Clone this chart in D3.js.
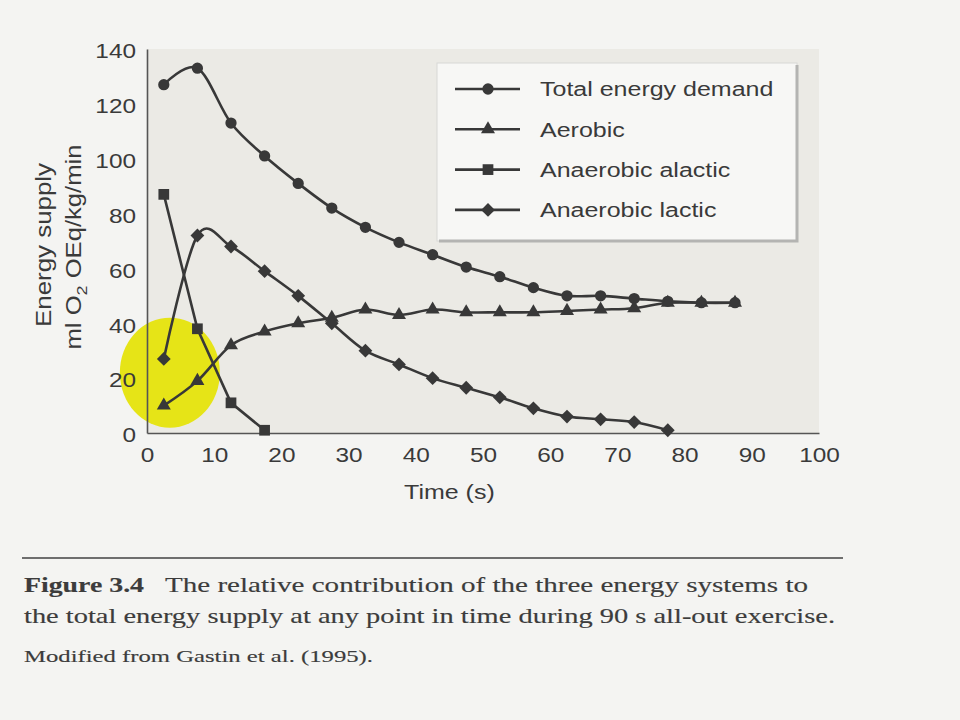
<!DOCTYPE html>
<html>
<head>
<meta charset="utf-8">
<script src="https://cdn.jsdelivr.net/npm/d3@7/dist/d3.min.js"></script>
<style>
    body { margin: 0; background: #f4f4f2; }
    svg { display: block; }
    .axis text { font-family: "Liberation Sans", Arial, sans-serif; font-size: 19.5px; fill: #3a3a3a; }
    .axis path { stroke: #555; stroke-width: 1.6; }
    .label { font-family: "Liberation Sans", Arial, sans-serif; font-size: 20px; fill: #3a3a3a; }
    .caption { font-family: "Liberation Serif", "DejaVu Serif", serif; fill: #3c3c3c; stroke: #3c3c3c; stroke-width: 0.15; }
</style>
</head>
<body>
<div id="chart"></div>
<script>
// time points (s)
const times = [2.5, 7.5, 12.5, 17.5, 22.5, 27.5, 32.5, 37.5, 42.5, 47.5, 52.5, 57.5, 62.5, 67.5, 72.5, 77.5, 82.5, 87.5];

// ml O2 OEq/kg/min
const totalDemand = [127, 133, 113, 101, 91, 82, 75, 69.5, 65, 60.5, 57, 53, 50, 50, 49, 48, 47.5, 47.5];
const aerobic     = [10, 19, 32, 37, 40, 42, 45, 43, 45, 44, 44, 44, 44.5, 45, 45.5, 47.5, 47.5, 47.5];
const alactic     = [87, 38, 11, 1];
const lactic      = [27, 72, 68, 59, 50, 40, 30, 25, 20, 16.5, 13, 9, 6, 5, 4, 1];

const seriesNames = ["Total energy demand", "Aerobic", "Anaerobic alactic", "Anaerobic lactic"];

const xTicks = [0, 10, 20, 30, 40, 50, 60, 70, 80, 90, 100];
const yTicks = [0, 20, 40, 60, 80, 100, 120, 140];

const width = 960, height = 720;
const margin = { top: 49, right: 141, bottom: 287, left: 147 };
const innerW = width - margin.left - margin.right;
const innerH = height - margin.top - margin.bottom;

// the scanned page is stretched sideways, so the text is too
const SX = 1.25;

const svg = d3.select("#chart").append("svg")
    .attr("width", width)
    .attr("height", height);

const g = svg.append("g")
    .attr("transform", `translate(${margin.left}, ${margin.top})`);

const x = d3.scaleLinear().domain([0, 100]).range([0, innerW]);
const y = d3.scaleLinear().domain([0, 140]).range([innerH, 0]);

// slightly tinted plot paper
g.append("rect")
    .attr("x", 0).attr("y", 0)
    .attr("width", innerW).attr("height", innerH)
    .attr("fill", "#ebeae5");

// yellow highlighter blob
g.append("ellipse")
    .attr("cx", x(3.4))
    .attr("cy", y(22))
    .attr("rx", 50)
    .attr("ry", 55)
    .attr("fill", "#e6e417");

// axes
g.append("g")
    .attr("class", "axis x-axis")
    .attr("transform", `translate(0, ${innerH})`)
    .call(d3.axisBottom(x).tickValues(xTicks).tickSize(0).tickPadding(15))
    .selectAll("text")
    .attr("transform", `scale(${SX}, 1)`);

g.append("g")
    .attr("class", "axis y-axis")
    .call(d3.axisLeft(y).tickValues(yTicks).tickSize(0))
    .selectAll("text")
    .attr("x", -11 / SX)
    .attr("dy", "0.45em")
    .attr("transform", `scale(${SX}, 1)`);

// axis titles
g.append("text")
    .attr("class", "label")
    .attr("transform", `translate(${x(45)}, ${innerH + 66}) scale(${SX}, 1)`)
    .attr("text-anchor", "middle")
    .text("Time (s)");

svg.append("text")
    .attr("class", "label")
    .attr("transform", `translate(51, 245) scale(1.1, 1) rotate(-90)`)
    .attr("text-anchor", "middle")
    .attr("textLength", 164)
    .attr("lengthAdjust", "spacingAndGlyphs")
    .text("Energy supply");

const unit = svg.append("text")
    .attr("class", "label")
    .attr("transform", `translate(81, 247) scale(1.1, 1) rotate(-90)`)
    .attr("text-anchor", "middle")
    .attr("textLength", 205)
    .attr("lengthAdjust", "spacingAndGlyphs");
unit.append("tspan").text("ml O");
unit.append("tspan").attr("dy", 5).style("font-size", "14px").text("2");
unit.append("tspan").attr("dy", -5).text(" OEq/kg/min");

// series
const series = [
    { name: seriesNames[0], values: totalDemand, symbol: d3.symbolCircle, size: 100, rot: 0, curve: d3.curveCardinal },
    { name: seriesNames[1], values: aerobic, symbol: d3.symbolTriangle, size: 85, rot: 0, curve: d3.curveCardinal },
    { name: seriesNames[2], values: alactic, symbol: d3.symbolSquare, size: 115, rot: 0, curve: d3.curveLinear },
    { name: seriesNames[3], values: lactic, symbol: d3.symbolSquare, size: 95, rot: 45, curve: d3.curveCardinal }
];

const ink = "#383838";

series.forEach(s => {
    const pts = s.values.map((v, i) => [times[i], v]);

    const line = d3.line()
        .x(d => x(d[0]))
        .y(d => y(d[1]))
        .curve(s.curve);

    g.append("path")
        .datum(pts)
        .attr("fill", "none")
        .attr("stroke", ink)
        .attr("stroke-width", 2.6)
        .attr("d", line);

    g.selectAll(null)
        .data(pts)
        .enter()
        .append("path")
        .attr("transform", d => `translate(${x(d[0])}, ${y(d[1])}) rotate(${s.rot})`)
        .attr("d", d3.symbol().type(s.symbol).size(s.size))
        .attr("fill", ink);
});

// legend
const legend = svg.append("g").attr("transform", "translate(437, 63)");

legend.append("rect")
    .attr("width", 360).attr("height", 178)
    .attr("fill", "#f7f7f5")
    .attr("stroke", "#d8d8d6")
    .attr("stroke-width", 1);

legend.append("path")
    .attr("d", "M360,2V178H2")
    .attr("fill", "none")
    .attr("stroke", "#b4b4b2")
    .attr("stroke-width", 3);

const rows = legend.selectAll(".legend-row")
    .data(series)
    .enter()
    .append("g")
    .attr("class", "legend-row")
    .attr("transform", (d, i) => `translate(0, ${26 + i * 40.3})`);

rows.append("line")
    .attr("x1", 18).attr("x2", 83)
    .attr("stroke", ink)
    .attr("stroke-width", 2.6);

rows.append("path")
    .attr("transform", d => `translate(51, 0) rotate(${d.rot})`)
    .attr("d", d => d3.symbol().type(d.symbol).size(d.size)())
    .attr("fill", ink);

rows.append("text")
    .attr("class", "label")
    .attr("transform", `translate(103, 0) scale(${SX}, 1)`)
    .attr("dy", "0.36em")
    .text(d => d.name);

// caption
svg.append("line")
    .attr("x1", 22).attr("x2", 843)
    .attr("y1", 558).attr("y2", 558)
    .attr("stroke", "#6e6e6e")
    .attr("stroke-width", 2);

svg.append("text")
    .attr("class", "caption")
    .attr("x", 24).attr("y", 592)
    .style("font-size", "21px")
    .style("font-weight", "bold")
    .attr("textLength", 120)
    .attr("lengthAdjust", "spacingAndGlyphs")
    .text("Figure 3.4");

svg.append("text")
    .attr("class", "caption")
    .attr("x", 165).attr("y", 592)
    .style("font-size", "21px")
    .attr("textLength", 643)
    .attr("lengthAdjust", "spacingAndGlyphs")
    .text("The relative contribution of the three energy systems to");

svg.append("text")
    .attr("class", "caption")
    .attr("x", 24).attr("y", 623)
    .style("font-size", "21px")
    .attr("textLength", 811)
    .attr("lengthAdjust", "spacingAndGlyphs")
    .text("the total energy supply at any point in time during 90 s all-out exercise.");

svg.append("text")
    .attr("class", "caption")
    .attr("x", 24).attr("y", 662)
    .style("font-size", "17px")
    .attr("textLength", 349)
    .attr("lengthAdjust", "spacingAndGlyphs")
    .text("Modified from Gastin et al. (1995).");
</script>
</body>
</html>
